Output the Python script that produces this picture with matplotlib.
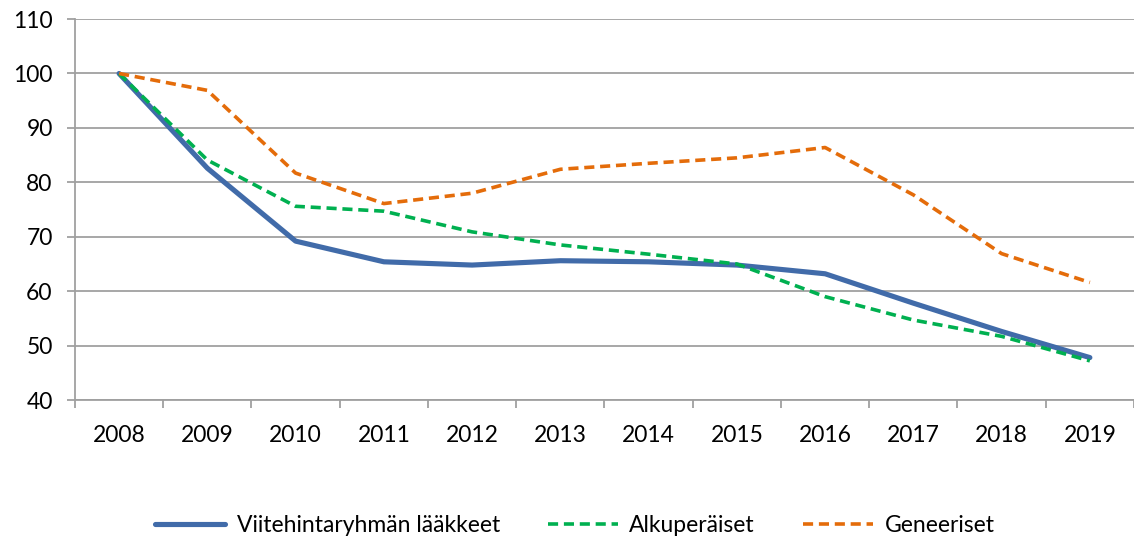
import matplotlib
matplotlib.use("Agg")
import matplotlib.pyplot as plt

# ==========================================================
# Data (index, 2008 = 100)
# ==========================================================

years = ["2008", "2009", "2010", "2011", "2012", "2013",
         "2014", "2015", "2016", "2017", "2018", "2019"]

viitehinta = [100, 82.6, 69.2, 65.4, 64.8, 65.6,
              65.4, 64.8, 63.2, 57.8, 52.6, 47.8]

alkuperaiset = [100, 84.1, 75.6, 74.7, 70.9, 68.5,
                66.8, 65.0, 59.0, 54.7, 51.7, 47.2]

geneeriset = [100, 96.9, 81.7, 76.1, 78.0, 82.4,
              83.5, 84.5, 86.4, 77.7, 66.9, 61.6]

labels = ["Viitehintaryhmän lääkkeet", "Alkuperäiset", "Geneeriset"]

# ==========================================================
# Plot
# ==========================================================

plt.rcParams["font.family"] = ["Lato", "DejaVu Sans"]

fig = plt.figure(figsize=(11.34, 5.45), dpi=100)
ax = fig.add_axes([0.0661, 0.266, 0.9339, 0.699])

x = list(range(len(years)))

ax.plot(x, viitehinta, color="#416BA9", linewidth=3.7,
        solid_capstyle="round", label=labels[0], zorder=3)
ax.plot(x, alkuperaiset, color="#00B050", linewidth=2.6,
        dashes=(2.8, 1.6), label=labels[1], zorder=4)
ax.plot(x, geneeriset, color="#E46C0A", linewidth=2.6,
        dashes=(2.8, 1.6), label=labels[2], zorder=4)

ax.set_xlim(-0.5, 11.5)
ax.set_ylim(40, 110)
ax.set_yticks(range(40, 111, 10))

ax.yaxis.grid(True, color="#A0A0A0", linewidth=1.3)
ax.set_axisbelow(True)

for side in ["top", "right"]:
    ax.spines[side].set_visible(False)
for side in ["left", "bottom"]:
    ax.spines[side].set_color("#A0A0A0")
    ax.spines[side].set_linewidth(1.3)

# category boundaries as major ticks, labels at centres
ax.set_xticks([i - 0.5 for i in range(len(years) + 1)])
ax.set_xticklabels([])
ax.set_xticks(x, minor=True)
ax.set_xticklabels(years, minor=True)
ax.tick_params(axis="x", which="major", length=6, width=1.3, color="#A0A0A0")
ax.tick_params(axis="x", which="minor", length=0, pad=18, labelsize=16.5)
ax.tick_params(axis="y", length=6, width=1.3, color="#A0A0A0",
               pad=10, labelsize=16.5)

fig.legend(loc="center", bbox_to_anchor=(0.507, 0.036), ncol=3,
           frameon=False, fontsize=16.5, handlelength=3.05,
           handletextpad=0.5, columnspacing=2.1)

plt.savefig("out.png", dpi=100)
